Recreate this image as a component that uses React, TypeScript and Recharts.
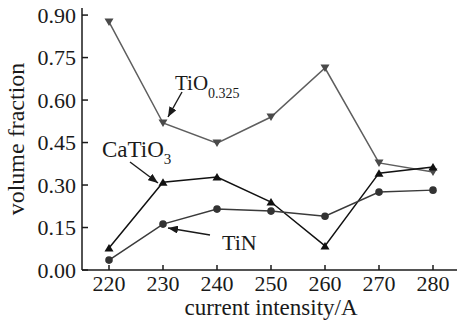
import { Line, LineChart, XAxis, YAxis } from 'recharts';

const current = [220, 230, 240, 250, 260, 270, 280];
const tiO = [0.876, 0.519, 0.448, 0.54, 0.713, 0.378, 0.346];
const caTiO3 = [0.078, 0.31, 0.328, 0.24, 0.085, 0.342, 0.364];
const tiN = [0.035, 0.162, 0.215, 0.208, 0.19, 0.275, 0.282];

const xMajor = [220, 230, 240, 250, 260, 270, 280];
const xMinor = [225, 235, 245, 255, 265, 275];
const yMajor = [0, 0.15, 0.3, 0.45, 0.6, 0.75, 0.9];
const yMinor = [0.075, 0.225, 0.375, 0.525, 0.675, 0.825];

const data = current.map((c, i) => ({ c, tiO: tiO[i], caTiO3: caTiO3[i], tiN: tiN[i] }));

const FONT = '"Liberation Serif", "DejaVu Serif", serif';
const INK = '#1a1a1a';

function XTick(props: any) {
  const { x, y, payload } = props;
  const major = xMajor.includes(payload.value);
  return (
    <g>
      <line x1={x} x2={x} y1={y} y2={y - (major ? 5 : 3)} stroke={INK} strokeWidth={1.5} />
      {major && (
        <text x={x} y={y + 20.5} textAnchor="middle" fontSize={22} fontFamily={FONT} fill={INK}>
          {payload.value}
        </text>
      )}
    </g>
  );
}

function YTick(props: any) {
  const { x, y, payload } = props;
  const major = yMajor.some((v) => Math.abs(v - payload.value) < 1e-6);
  return (
    <g>
      <line x1={x} x2={x + (major ? 6 : 4)} y1={y} y2={y} stroke={INK} strokeWidth={1.5} />
      {major && (
        <text x={x - 6} y={y + 7.5} textAnchor="end" fontSize={22} fontFamily={FONT} fill={INK}>
          {payload.value.toFixed(2)}
        </text>
      )}
    </g>
  );
}

function Marker({ cx, cy, kind, fill }: any) {
  if (cx == null || cy == null) return null;
  if (kind === 'down')
    return <path d={`M${cx - 4.5},${cy - 3.5} L${cx + 4.5},${cy - 3.5} L${cx},${cy + 4} Z`} fill={fill} />;
  if (kind === 'up')
    return <path d={`M${cx - 4.5},${cy + 3.5} L${cx + 4.5},${cy + 3.5} L${cx},${cy - 4} Z`} fill={fill} />;
  return <circle cx={cx} cy={cy} r={3.8} fill={fill} />;
}

function Annotations() {
  return (
    <svg width={457} height={321} style={{ position: 'absolute', left: 0, top: 0, pointerEvents: 'none' }}>
      <defs>
        <marker id="head" viewBox="0 0 10 8" refX={10} refY={4} markerWidth={10} markerHeight={8} markerUnits="userSpaceOnUse" orient="auto">
          <path d="M0,0 L10,4 L0,8 Z" fill={INK} />
        </marker>
      </defs>
      <g fontFamily={FONT} fill={INK}>
        <text x={175} y={90} fontSize={21}>
          TiO
          <tspan fontSize={14} dy={8}>0.325</tspan>
        </text>
        <text x={102} y={157} fontSize={23}>
          CaTiO
          <tspan fontSize={15} dy={7}>3</tspan>
        </text>
        <text x={222} y={250} fontSize={22}>TiN</text>
      </g>
      <g stroke={INK} strokeWidth={1.4}>
        <line x1={182} y1={92} x2={168} y2={117} markerEnd="url(#head)" />
        <line x1={130} y1={162} x2={158} y2={183} markerEnd="url(#head)" />
        <line x1={210} y1={235} x2={168} y2={228} markerEnd="url(#head)" />
      </g>
    </svg>
  );
}

export default function App() {
  return (
    <div style={{ position: 'absolute', left: 0, top: 0, width: 457, height: 321, overflow: 'hidden', background: '#fff' }}>
      <LineChart width={470} height={321} data={data} margin={{ top: 8, right: 10, bottom: 0, left: 0 }}>
        <XAxis
          dataKey="c"
          type="number"
          domain={[215, 285]}
          ticks={[...xMajor, ...xMinor].sort((a, b) => a - b)}
          tick={<XTick />}
          tickLine={false}
          tickSize={0}
          tickMargin={0}
          height={51}
          axisLine={{ stroke: INK, strokeWidth: 1.5 }}
          label={{ value: 'current intensity/A', position: 'insideBottom', offset: 6, fontSize: 23, fontFamily: FONT, fill: INK }}
        />
        <XAxis
          xAxisId="top"
          orientation="top"
          dataKey="c"
          type="number"
          domain={[215, 285]}
          tick={false}
          tickLine={false}
          height={0}
          axisLine={{ stroke: INK, strokeWidth: 1.5 }}
        />
        <YAxis
          type="number"
          domain={[0, 0.925]}
          ticks={[...yMajor, ...yMinor].sort((a, b) => a - b)}
          tick={<YTick />}
          tickLine={false}
          tickSize={0}
          tickMargin={0}
          width={82}
          axisLine={{ stroke: INK, strokeWidth: 1.5 }}
          label={{
            content: ({ viewBox }: any) => (
              <text
                x={viewBox.x + 24}
                y={viewBox.y + viewBox.height / 2}
                transform={`rotate(-90 ${viewBox.x + 24} ${viewBox.y + viewBox.height / 2})`}
                textAnchor="middle"
                fontSize={24}
                fontFamily={FONT}
                fill={INK}
              >
                volume fraction
              </text>
            ),
          }}
        />
        <Line
          dataKey="tiO"
          stroke="#5e5e5e"
          strokeWidth={1.5}
          dot={(p: any) => <Marker key={p.index} {...p} kind="down" fill="#4a4a4a" />}
          isAnimationActive={false}
        />
        <Line
          dataKey="caTiO3"
          stroke="#111"
          strokeWidth={1.5}
          dot={(p: any) => <Marker key={p.index} {...p} kind="up" fill="#111" />}
          isAnimationActive={false}
        />
        <Line
          dataKey="tiN"
          stroke="#3a3a3a"
          strokeWidth={1.5}
          dot={(p: any) => <Marker key={p.index} {...p} kind="circle" fill="#333" />}
          isAnimationActive={false}
        />
      </LineChart>
      <Annotations />
    </div>
  );
}
